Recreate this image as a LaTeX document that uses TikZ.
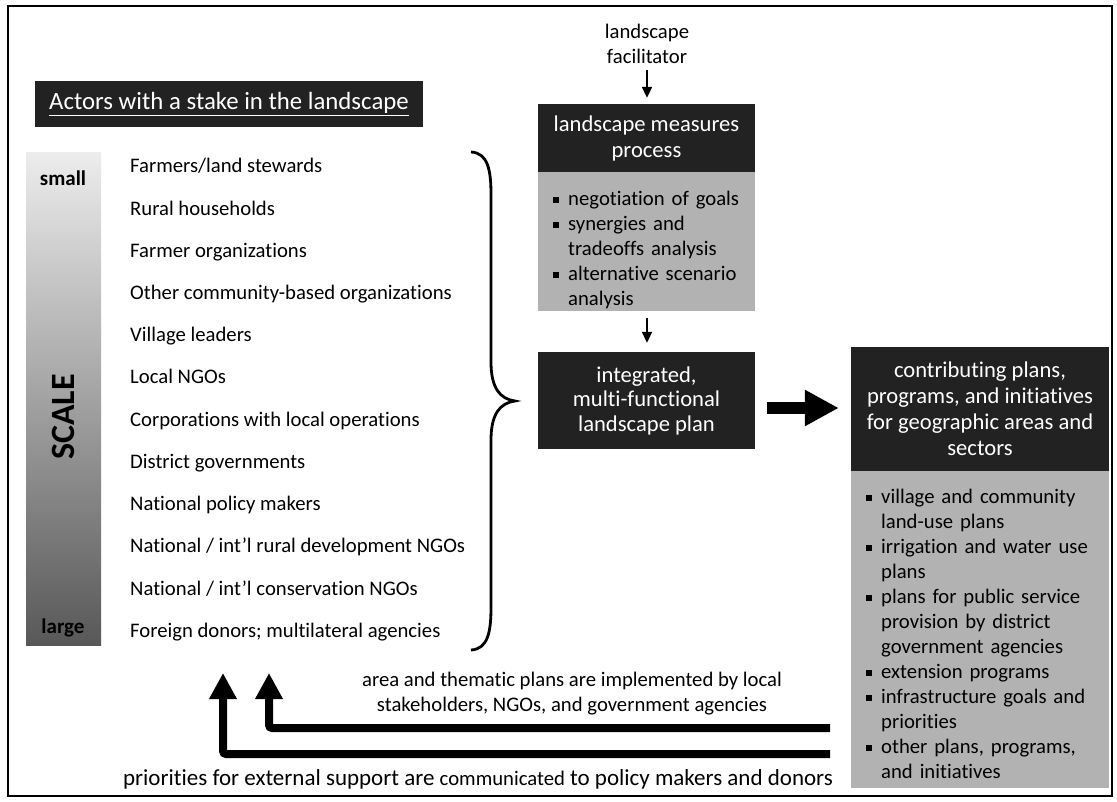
\documentclass[tikz,border=0pt]{standalone}
\usepackage{fontspec}
\setmainfont{Carlito}[Ligatures=NoCommon]
\usetikzlibrary{arrows.meta}
\definecolor{dark}{RGB}{34,34,34}
\definecolor{boxgray}{RGB}{178,178,178}
\definecolor{scaletop}{RGB}{236,236,236}
\definecolor{scalebot}{RGB}{88,88,88}
\newcommand{\bsq}{\makebox[15pt][l]{\rule[3pt]{5.5pt}{5.5pt}}}
\newcommand{\litem}[1]{\par\noindent\hangindent=15pt\hangafter=1\strut\bsq#1\par}
\tikzset{
  body/.style={font=\fontsize{20.7}{25}\selectfont},
  headbox/.style={fill=dark, text=white, inner sep=0pt, align=center, font=\fontsize{22.6}{26}\selectfont},
  graybox/.style={fill=boxgray, inner sep=0pt},
  listtext/.style={anchor=north west, inner sep=0pt, text width=260pt, align=left, font=\fontsize{20.7}{25}\selectfont},
  thinarrow/.style={line width=2pt, -{Triangle[length=11pt,width=10pt]}},
  fatarrow/.style={line width=8pt, -{Triangle[length=26pt,width=26pt]}, rounded corners=3pt},
  bigarrow/.style={line width=12pt, -{Triangle[length=34pt,width=34pt]}},
  actor/.style={anchor=base west, inner sep=0pt, body},
}
\begin{document}
\begin{tikzpicture}[x=1pt,y=-1pt]
\useasboundingbox (0,0) rectangle (1117,802);
\draw[line width=1.6pt] (8,6) rectangle (1112,796);

% title
\node[headbox, font=\fontsize{24.8}{28}\selectfont, minimum width=388pt, minimum height=46pt] (title) at (229,104) {\underline{Actors with a stake in the landscape}};

% scale bar
\node[top color=scaletop, bottom color=scalebot, minimum width=75pt, minimum height=492pt, inner sep=0pt] (bar) at (63.5,399) {};
\node[font=\bfseries\fontsize{21}{24}\selectfont] (small) at (63,178) {small};
\node[font=\bfseries\fontsize{21}{24}\selectfont] (large) at (63,628) {large};
\node[rotate=90, font=\bfseries\fontsize{34}{40}\selectfont] (scale) at (63,417) {SCALE};

% actors
\foreach \t [count=\i from 0] in {Farmers/land stewards, Rural households, Farmer organizations, Other community-based organizations, Village leaders, Local NGOs, Corporations with local operations, District governments, National policy makers, National / int’l rural development NGOs, National / int’l conservation NGOs, Foreign donors; multilateral agencies}
  \node[actor] (a\i) at (130,173+42.2*\i) {\t};

% brace
\draw[line width=2.8pt] (471,152) .. controls (488,153) and (491,170) .. (491,195) -- (491,362)
  .. controls (491,388) and (500,399) .. (515,401)
  .. controls (500,403) and (491,414) .. (491,440) -- (491,607)
  .. controls (491,632) and (488,649) .. (471,650);

% landscape measures process
\node[body, align=center] (fac) at (647,44) {landscape\\facilitator};
\node[headbox, minimum width=217pt, minimum height=68pt] (lmph) at (646.5,138) {landscape measures\\process};
\node[graybox, minimum width=217pt, minimum height=139pt, anchor=north] (lmpg) at (lmph.south) {};
\node[listtext] (lmpl) at (553,180.4) {%
\litem{negotiation of goals}%
\litem{synergies and\newline tradeoffs analysis}%
\litem{alternative scenario\newline analysis}};
\node[headbox, minimum width=217pt, minimum height=97pt, font=\fontsize{22.6}{24.5}\selectfont] (integ) at (646.5,400.5) {integrated,\\multi-functional\\landscape plan};

\draw[thinarrow, shorten <=3pt, shorten >=6pt] (fac.south) -- (fac.south |- lmph.north);
\draw[thinarrow, shorten <=6pt, shorten >=9pt] (lmpg.south -| fac.south) -- (fac.south |- integ.north);

% right box
\node[headbox, minimum width=258pt, minimum height=124pt] (righth) at (980,409) {contributing plans,\\programs, and initiatives\\for geographic areas and\\sectors};
\node[graybox, minimum width=258pt, minimum height=317pt, anchor=north] (rightg) at (righth.south) {};
\node[listtext] (rightl) at (866,478.4) {%
\litem{village and community\newline land-use plans}%
\litem{irrigation and water use\newline plans}%
\litem{plans for public service\newline provision by district\newline government agencies}%
\litem{extension programs}%
\litem{infrastructure goals and\newline priorities}%
\litem{other plans, programs,\newline and initiatives}};

\draw[bigarrow, shorten <=12pt, shorten >=12pt] ([yshift=-7.5pt]integ.east) -- ([yshift=-7.5pt]integ.east -| righth.west);

% bottom feedback
\node[body, align=center] (impl) at (572,694) {area and thematic plans are implemented by local\\stakeholders, NGOs, and government agencies};
\node[anchor=base, inner sep=0pt, font=\fontsize{23}{27}\selectfont] (ext) at (478,785) {priorities for external support are {\fontsize{20.7}{25}\selectfont communicated} to policy makers and donors};
\coordinate (r1) at (830,728);
\coordinate (r2) at (830,754);
\coordinate (t1) at (269,673);
\coordinate (t2) at (223,673);
\draw[fatarrow] (r1) -| (t1);
\draw[fatarrow] (r2) -| (t2);
\end{tikzpicture}
\end{document}
